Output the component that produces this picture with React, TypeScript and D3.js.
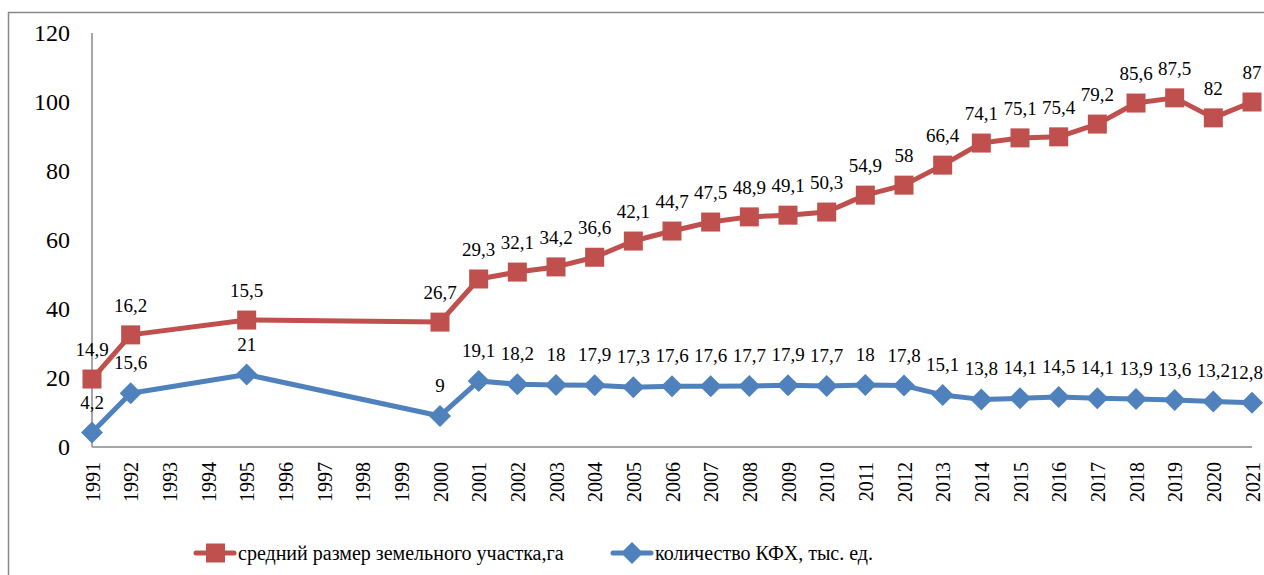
import React from "react";
import * as d3 from "d3";

// years on the category axis (some have no data)
const years = [
  "1991", "1992", "1993", "1994", "1995", "1996", "1997", "1998", "1999", "2000",
  "2001", "2002", "2003", "2004", "2005", "2006", "2007", "2008", "2009", "2010",
  "2011", "2012", "2013", "2014", "2015", "2016", "2017", "2018", "2019", "2020", "2021",
];

const dataYears = [
  "1991", "1992", "1995", "2000", "2001", "2002", "2003", "2004", "2005", "2006",
  "2007", "2008", "2009", "2010", "2011", "2012", "2013", "2014", "2015", "2016",
  "2017", "2018", "2019", "2020", "2021",
];

// red series: plotted height and the label shown on the chart (they differ in the source)
const plotSize = [
  19.7, 32.5, 36.8, 36.2, 48.7, 50.7, 52.2, 55, 59.7, 62.6,
  65.2, 66.7, 67.2, 68.1, 73, 75.9, 81.7, 88.1, 89.6, 89.9,
  93.6, 99.7, 101.2, 95.4, 100,
];
const labelSize = [
  "14,9", "16,2", "15,5", "26,7", "29,3", "32,1", "34,2", "36,6", "42,1", "44,7",
  "47,5", "48,9", "49,1", "50,3", "54,9", "58", "66,4", "74,1", "75,1", "75,4",
  "79,2", "85,6", "87,5", "82", "87",
];

// blue series: number of farms, thousand
const farms = [
  4.2, 15.6, 21, 9, 19.1, 18.2, 18, 17.9, 17.3, 17.6,
  17.6, 17.7, 17.9, 17.7, 18, 17.8, 15.1, 13.8, 14.1, 14.5,
  14.1, 13.9, 13.6, 13.2, 12.8,
];

const yTicks = [0, 20, 40, 60, 80, 100, 120];

const RED = "#C0504D";
const BLUE = "#4F81BD";
const SERIF = '"Liberation Serif", "Times New Roman", serif';

const fmt = (v: number) => String(v).replace(".", ",");

const App = () => {
  const x = d3.scalePoint().domain(years).range([92, 1252]);
  const y = d3.scaleLinear().domain([0, 120]).range([447, 33]);

  const redPts = dataYears.map((yr, i) => [x(yr) as number, y(plotSize[i])] as [number, number]);
  const bluePts = dataYears.map((yr, i) => [x(yr) as number, y(farms[i])] as [number, number]);
  const line = d3.line();
  const last = dataYears.length - 1;

  const diamond = (cx: number, cy: number, r: number) =>
    `M${cx},${cy - r}L${cx + r},${cy}L${cx},${cy + r}L${cx - r},${cy}Z`;

  return (
    <svg width={1264} height={575} style={{ position: "absolute", left: 0, top: 0, fontFamily: SERIF }}>
      <rect x={0} y={0} width={1264} height={575} fill="#fff" />
      <rect x={8.5} y={12.5} width={1270} height={600} fill="none" stroke="#888" strokeWidth={1.5} />

      {/* axes */}
      <line x1={92} x2={92} y1={33} y2={447} stroke="#898989" strokeWidth={1.5} />
      <line x1={92} x2={1252} y1={447} y2={447} stroke="#898989" strokeWidth={1.5} />

      {yTicks.map(t => (
        <text key={t} x={70} y={y(t)} dy="0.35em" textAnchor="end" fontSize={24}>
          {t}
        </text>
      ))}

      {years.map(yr => (
        <text
          key={yr}
          transform={`translate(${(x(yr) as number) + 7.5},462) rotate(-90)`}
          textAnchor="end"
          fontSize={20}
        >
          {yr}
        </text>
      ))}

      {/* red series */}
      <path d={line(redPts) || ""} fill="none" stroke={RED} strokeWidth={5} strokeLinejoin="round" />
      {redPts.map(([px, py], i) => (
        <rect key={i} x={px - 9.5} y={py - 9.5} width={19} height={19} fill={RED} />
      ))}

      {/* blue series */}
      <path d={line(bluePts) || ""} fill="none" stroke={BLUE} strokeWidth={5} strokeLinejoin="round" />
      {bluePts.map(([px, py], i) => (
        <path key={i} d={diamond(px, py, 11)} fill={BLUE} />
      ))}

      {/* data labels */}
      {redPts.map(([px, py], i) => (
        <text key={"r" + i} x={px} y={py - 23} textAnchor="middle" fontSize={19}>
          {labelSize[i]}
        </text>
      ))}
      {bluePts.map(([px, py], i) => (
        <text
          key={"b" + i}
          x={i === last ? 1263 : px}
          y={py - 24}
          textAnchor={i === last ? "end" : "middle"}
          fontSize={19}
        >
          {fmt(farms[i])}
        </text>
      ))}

      {/* legend */}
      <g>
        <line x1={196} x2={234} y1={553} y2={553} stroke={RED} strokeWidth={5} strokeLinecap="round" />
        <rect x={206} y={543.5} width={19} height={19} fill={RED} />
        <text x={238} y={553} dy="0.35em" fontSize={20}>
          средний размер земельного участка,га
        </text>
        <line x1={613} x2={651} y1={553} y2={553} stroke={BLUE} strokeWidth={5} strokeLinecap="round" />
        <path d={diamond(632, 553, 11)} fill={BLUE} />
        <text x={655} y={553} dy="0.35em" fontSize={20}>
          количество КФХ, тыс. ед.
        </text>
      </g>
    </svg>
  );
};

export default App;
